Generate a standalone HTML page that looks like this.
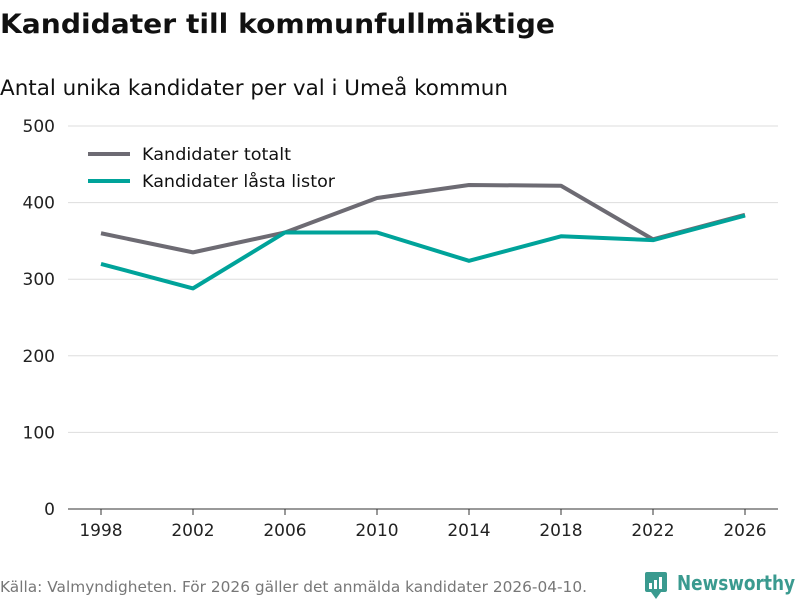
<!DOCTYPE html>
<html><head><meta charset="utf-8"><style>
body{margin:0;width:800px;height:600px;background:#fff;font-family:"DejaVu Sans","Liberation Sans",sans-serif;overflow:hidden}
</style></head><body>
<svg id="c" width="800" height="600" xmlns="http://www.w3.org/2000/svg">
<text x="0" y="33" font-size="27" font-weight="bold" fill="#111" textLength="555" lengthAdjust="spacingAndGlyphs">Kandidater till kommunfullmäktige</text>
<text x="0" y="95" font-size="21" fill="#111" textLength="508" lengthAdjust="spacingAndGlyphs">Antal unika kandidater per val i Umeå kommun</text>
<g id="grid"></g><g id="lines"></g>
<g>
<line x1="88" y1="154" x2="130" y2="154" stroke="#6d6b73" stroke-width="4"/>
<text x="142" y="160" font-size="17" fill="#111" textLength="149" lengthAdjust="spacingAndGlyphs">Kandidater totalt</text>
<line x1="88" y1="181" x2="130" y2="181" stroke="#00a39a" stroke-width="4"/>
<text x="142" y="187" font-size="17" fill="#111" textLength="193" lengthAdjust="spacingAndGlyphs">Kandidater låsta listor</text>
</g>
<text x="0" y="592" font-size="15" fill="#777" textLength="587" lengthAdjust="spacingAndGlyphs">Källa: Valmyndigheten. För 2026 gäller det anmälda kandidater 2026-04-10.</text>
<g>
<rect x="645" y="572" width="22" height="20" rx="2" fill="#3a9a8f"/>
<path d="M651 592 L656 599 L661 592Z" fill="#3a9a8f"/>
<rect x="649" y="583" width="3" height="6" fill="#fff"/><rect x="654" y="580" width="3" height="9" fill="#fff"/><rect x="659" y="577" width="3" height="12" fill="#fff"/>
<text x="677" y="590" font-size="20" font-weight="bold" fill="#3a9a8f" textLength="118" lengthAdjust="spacingAndGlyphs">Newsworthy</text>
</g>
</svg>
<script>
const years=[1998,2002,2006,2010,2014,2018,2022,2026];
const totalt=[360,335,361,406,423,422,352,384];
const lasta=[320,288,361,361,324,356,351,383];
const yTicks=[0,100,200,300,400,500];
const NS="http://www.w3.org/2000/svg";
const x=v=>101+(v-1998)*(745-101)/28;
const y=v=>509-v*(509-126)/500;
const grid=document.getElementById('grid'),lines=document.getElementById('lines');
function mk(tag,a,p){const e=document.createElementNS(NS,tag);for(const k in a)e.setAttribute(k,a[k]);p.appendChild(e);return e;}
yTicks.forEach(t=>{
  const l=mk('line',{x1:68,x2:778,y1:y(t),y2:y(t),stroke:t===0?'#333':'#ddd','stroke-width':1},grid);
  
  
  const tx=mk('text',{x:55,y:y(t)+6,'font-size':17,'text-anchor':'end',fill:'#222'},grid);tx.textContent=t;
  
  
});
years.forEach(yr=>{
  mk('line',{x1:x(yr),x2:x(yr),y1:509,y2:515,stroke:'#333'},grid);
  const tx=mk('text',{x:x(yr),y:536,'font-size':17,'text-anchor':'middle',fill:'#222'},grid);tx.textContent=yr;
  
  
});
function line(vals,col,name){
  const p=mk('polyline',{points:vals.map((v,i)=>x(years[i])+','+y(v)).join(' '),fill:'none',stroke:col,'stroke-width':4,'stroke-linejoin':'round'},lines);
  
  
}
line(totalt,'#6d6b73','line-kandidater-totalt');
line(lasta,'#00a39a','line-kandidater-lasta-listor');
</script>
</body></html>
